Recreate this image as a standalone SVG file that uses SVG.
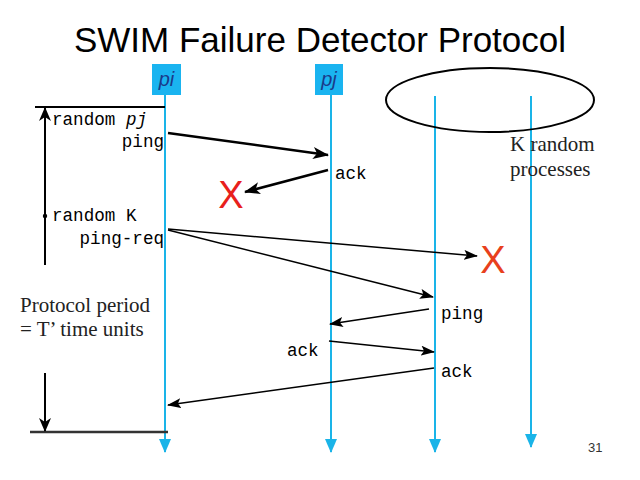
<svg xmlns="http://www.w3.org/2000/svg" width="640" height="480" viewBox="0 0 640 480">
<defs>
<marker id="ah" markerUnits="userSpaceOnUse" markerWidth="16" markerHeight="12" refX="15" refY="6" orient="auto"><path d="M0,0 L16,6 L0,12 L4,6 Z" fill="#000"/></marker>
<marker id="ahs" markerUnits="userSpaceOnUse" markerWidth="14" markerHeight="10" refX="13" refY="5" orient="auto"><path d="M0,0 L14,5 L0,10 L3,5 Z" fill="#000"/></marker>
<marker id="bh" markerUnits="userSpaceOnUse" markerWidth="14" markerHeight="12" refX="13" refY="6" orient="auto"><path d="M0,0 L14,6 L0,12 Z" fill="#1ab4e8"/></marker>
<marker id="vh" markerUnits="userSpaceOnUse" markerWidth="14" markerHeight="12" refX="13" refY="6" orient="auto"><path d="M0,0 L14,6 L0,12 L4,6 Z" fill="#000"/></marker>
</defs>
<style>
.life{stroke:#1ab4e8;stroke-width:2;fill:none}
.box{fill:#1ab4f0}
.plbl{font-family:"Liberation Sans",Arial,sans-serif;font-style:italic;font-size:20px;fill:#1a3a8a}
.mono{font-family:"Liberation Mono","Courier New",monospace;font-size:17.6px;fill:#000}
.serif{font-family:"Liberation Serif","Times New Roman",serif;font-size:21px;fill:#222}
.thick{stroke:#000;stroke-width:2.5;fill:none;marker-end:url(#ah)}
.thin{stroke:#000;stroke-width:1.5;fill:none;marker-end:url(#ahs)}
.x{font-family:"Liberation Sans",Arial,sans-serif;font-size:38px;text-anchor:middle}
</style>
<rect width="640" height="480" fill="#fff"/>
<text x="320" y="52" text-anchor="middle" font-family="Liberation Sans,Arial,sans-serif" font-size="35" fill="#000">SWIM Failure Detector Protocol</text>

<g id="pi">
<rect class="box" x="152" y="64" width="29" height="31"/>
<text class="plbl" x="166.5" y="86" text-anchor="middle">pi</text>
<line class="life" x1="165" y1="95" x2="165" y2="452" marker-end="url(#bh)"/>
</g>
<g id="pj">
<rect class="box" x="315" y="64" width="28" height="31"/>
<text class="plbl" x="329" y="86" text-anchor="middle">pj</text>
<line class="life" x1="331" y1="95" x2="331" y2="452" marker-end="url(#bh)"/>
</g>
<g id="p3">
<line class="life" x1="435" y1="96" x2="435" y2="452" marker-end="url(#bh)"/>
</g>
<g id="p4">
<line class="life" x1="531" y1="96" x2="531" y2="447" marker-end="url(#bh)"/>
</g>
<g id="krandom">
<ellipse cx="490" cy="100" rx="104" ry="32" fill="none" stroke="#000" stroke-width="2"/>
<text class="serif" x="510" y="151">K random</text>
<text class="serif" x="510" y="176">processes</text>
</g>

<g id="period">
<line x1="35" y1="107" x2="165" y2="107" stroke="#000" stroke-width="2"/>
<line x1="30" y1="432" x2="168" y2="432" stroke="#333" stroke-width="2.5"/>
<line x1="45" y1="265" x2="45" y2="108" stroke="#000" stroke-width="2" marker-end="url(#vh)"/>
<line x1="45" y1="373" x2="45" y2="431" stroke="#000" stroke-width="2" marker-end="url(#vh)"/>
<circle cx="45" cy="216" r="2.2" fill="#000"/>
<text class="serif" x="20" y="312">Protocol period</text>
<text class="serif" x="20" y="336">= T’ time units</text>
</g>

<g id="labels">
<text class="mono" x="52" y="125">random <tspan font-style="italic">pj</tspan></text>
<text class="mono" x="164" y="147" text-anchor="end">ping</text>
<text class="mono" x="52" y="221">random K</text>
<text class="mono" x="164" y="244" text-anchor="end">ping-req</text>
<text class="mono" x="335" y="179">ack</text>
<text class="mono" x="441" y="319">ping</text>
<text class="mono" x="287" y="356">ack</text>
<text class="mono" x="441" y="377">ack</text>
<text class="x" x="231" y="208" fill="#e8201c">X</text>
<text class="x" x="493" y="273" fill="#e8401c">X</text>
</g>

<g id="connectors">
<line class="thick" x1="168" y1="133" x2="328" y2="155"/>
<line class="thick" x1="328" y1="170" x2="245" y2="192"/>
<line class="thin" x1="168" y1="229" x2="477" y2="256"/>
<line class="thin" x1="168" y1="230" x2="433" y2="297"/>
<line class="thin" x1="429" y1="309" x2="330" y2="324"/>
<line class="thin" x1="329" y1="341" x2="434" y2="352"/>
<line class="thin" x1="434" y1="368" x2="168" y2="405"/>
</g>

<text x="588" y="452" font-family="Liberation Sans,Arial,sans-serif" font-size="13" fill="#333">31</text>
</svg>
